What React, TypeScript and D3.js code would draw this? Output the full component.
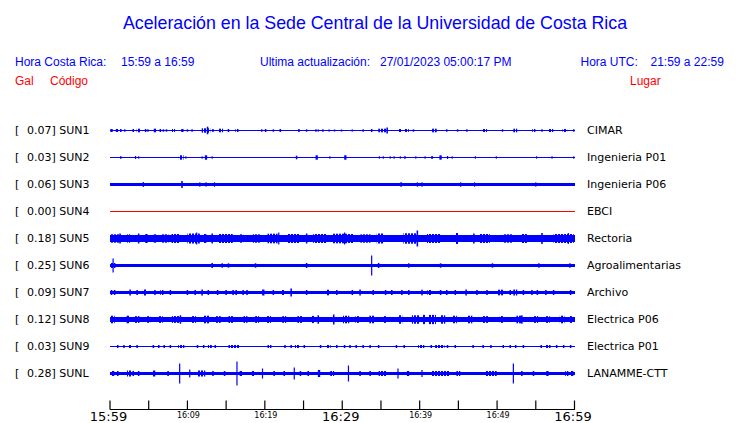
import React from "react";
import * as d3 from "d3";

// ---------- data ----------
const codes = ["SUN1", "SUN2", "SUN3", "SUN4", "SUN5", "SUN6", "SUN7", "SUN8", "SUN9", "SUNL"];
const peaks = ["0.07", "0.03", "0.06", "0.00", "0.18", "0.25", "0.09", "0.12", "0.03", "0.28"];
const places = ["CIMAR", "Ingenieria P01", "Ingenieria P06", "EBCI", "Rectoria", "Agroalimentarias", "Archivo", "Electrica P06", "Electrica P01", "LANAMME-CTT"];
// background (continuous) half amplitude of each trace, relative units
const baseAmp = [6, 5, 17, 5, 32, 17, 15, 26, 5, 15];
const traceColors = ["blue", "blue", "blue", "red", "blue", "blue", "blue", "blue", "blue", "blue"];
const tickMinutes = [0, 5, 10, 15, 20, 25, 30, 35, 40, 45, 50, 55, 60];
const tickLabels = ["15:59", "", "16:09", "", "16:19", "", "16:29", "", "16:39", "", "16:49", "", "16:59"];
const bigLabels = ["15:59", "16:29", "16:59"];

// bursts: [minute after 15:59, half amplitude (relative units), duration (min)]
const sun1: number[][] = [[0.2,15,0.3],[0.9,15,0.3],[1.4,15,0.2],[1.9,12,0.2],[3.0,15,0.2],[3.7,18,0.5],[4.6,15,0.2],[4.9,12,0.2],[5.8,18,0.3],[6.5,15,0.2],[6.9,12,0.2],[7.3,12,0.2],[8.2,15,0.4],[9.35,15,0.3],[10.0,12,0.2],[10.6,12,0.2],[12.4,22,1.1],[12.6,38,0.2],[13.3,15,0.2],[14.3,18,0.6],[15.3,15,0.2],[16.4,15,0.4],[19.6,12,0.2],[20.1,15,0.2],[21.1,12,0.2],[22.0,15,0.2],[24.4,15,0.2],[25.4,12,0.2],[26.6,12,0.2],[26.9,10,0.2],[27.5,12,0.2],[28.3,10,0.2],[29.0,10,0.2],[29.9,10,0.2],[31.3,10,0.2],[32.7,12,0.2],[33.8,15,0.2],[35.2,18,1.1],[35.8,30,0.2],[37.45,15,0.5],[38.3,15,0.6],[39.2,12,0.2],[41.9,18,0.6],[43.5,12,0.2],[44.9,12,0.2],[46.1,12,0.2],[48.4,15,0.6],[50.7,12,0.2],[52.35,18,0.5],[54.75,15,0.4],[55.8,12,0.2],[56.95,15,0.6],[58.75,15,0.6],[59.9,12,0.2]];
const sun2: number[][] = [[1.4,15,0.15],[3.3,15,0.15],[3.7,12,0.15],[9.2,22,0.6],[9.8,12,0.15],[11.9,12,0.15],[12.4,22,0.3],[13.2,12,0.15],[24.1,18,0.2],[26.7,22,0.3],[28.4,12,0.15],[30.4,22,0.3],[34.8,12,0.15],[35.3,12,0.15],[36.2,12,0.15],[36.7,12,0.15],[37.5,12,0.15],[38.1,15,0.15],[39.5,12,0.15],[40.7,12,0.15],[41.6,15,0.2],[42.7,22,0.3],[43.6,15,0.15],[44.2,12,0.15],[47.2,12,0.15],[49.9,12,0.15],[55.1,12,0.15],[57.1,12,0.15],[59.9,12,0.15]];
const sun3: number[][] = [[4.3,25,0.15],[9.3,35,0.2],[11.6,22,0.15],[12.4,22,0.15],[13.5,22,0.15],[37.6,25,0.15],[39.7,22,0.15],[40.3,22,0.15],[45.3,22,0.15],[47.1,22,0.15],[55.0,22,0.15]];
const sun4: number[][] = [];
const sun5: number[][] = [[0.7,42,1.2],[1.3,50,0.2],[2.4,42,0.4],[3.7,50,0.2],[4.7,45,0.3],[5.8,42,0.3],[7.1,42,0.9],[8.5,45,1.1],[10.8,50,1.6],[11.2,60,0.15],[12.3,45,0.3],[13.2,50,0.2],[14.9,45,1.9],[17.0,42,0.4],[18.9,42,0.9],[21.0,48,1.3],[21.8,60,0.15],[23.7,45,1.7],[25.4,50,0.2],[27.1,45,1.7],[29.7,48,1.8],[30.3,60,0.15],[31.0,45,1.0],[33.0,42,1.3],[34.9,50,0.9],[38.8,52,1.8],[39.7,80,0.2],[41.8,45,1.7],[44.8,55,0.4],[47.0,50,0.2],[48.4,45,1.3],[51.4,42,1.3],[53.5,45,0.7],[55.8,55,0.2],[58.6,45,2.6],[59.2,55,0.15]];
const sun6: number[][] = [[0.4,25,0.6],[0.4,70,0.15],[13.2,25,0.2],[14.5,22,0.2],[15.3,22,0.2],[18.8,22,0.2],[25.4,25,0.2],[33.8,100,0.15],[34.7,25,0.2],[38.6,22,0.2],[42.7,22,0.2],[49.4,22,0.2],[55.4,22,0.2],[59.4,22,0.2]];
const sun7: number[][] = [[0.2,25,0.2],[0.6,25,0.2],[2.6,30,0.2],[3.5,25,0.2],[4.5,30,0.5],[5.8,25,0.2],[6.7,25,0.4],[7.8,25,0.2],[10.0,25,0.2],[11.0,25,0.2],[11.9,30,0.2],[12.7,25,0.2],[13.9,25,0.2],[15.0,25,0.2],[15.9,25,0.2],[16.3,25,0.2],[17.2,25,0.2],[17.7,25,0.2],[19.8,30,0.3],[21.1,25,0.2],[22.4,25,0.4],[23.4,40,0.2],[25.4,25,0.2],[28.2,28,0.4],[29.3,25,0.2],[31.3,25,0.2],[32.3,30,0.2],[34.0,25,0.2],[35.6,25,0.2],[36.4,25,0.2],[37.7,25,0.2],[38.6,25,0.2],[40.3,28,0.2],[41.3,25,0.6],[42.7,25,0.2],[43.5,25,0.2],[44.6,25,0.2],[46.0,30,0.2],[47.4,25,0.2],[48.7,25,0.2],[50.4,28,0.8],[51.7,25,0.2],[52.35,30,0.5],[53.4,25,0.2],[54.5,25,0.2],[55.2,25,0.2],[56.3,25,0.2],[57.3,25,0.2],[59.5,25,0.2]];
const sun8: number[][] = [[0.3,38,0.6],[2.3,38,0.3],[3.5,34,0.6],[5.0,34,0.4],[6.5,34,0.6],[8.5,34,1.0],[9.1,42,0.2],[10.8,34,0.6],[12.5,38,0.8],[14.0,34,0.6],[15.6,34,0.6],[17.5,34,0.5],[19.0,34,0.5],[20.5,34,0.6],[22.5,34,0.5],[24.5,34,0.6],[26.2,36,0.5],[26.9,42,0.2],[28.9,50,0.2],[30.5,38,0.8],[32.0,34,0.6],[33.8,38,0.6],[35.5,34,0.4],[37.5,42,0.5],[39.5,42,1.0],[40.5,46,0.4],[41.6,46,1.0],[43.0,42,0.6],[44.5,38,0.6],[46.5,38,0.6],[48.5,34,0.8],[50.6,34,0.5],[52.8,38,0.6],[53.2,42,0.2],[55.0,34,0.6],[56.5,34,0.6],[58.4,38,0.6],[59.6,34,0.4]];
const sun9: number[][] = [[1.0,15,0.2],[1.8,15,0.2],[2.6,15,0.4],[3.5,15,0.2],[5.6,15,0.2],[6.3,15,0.2],[7.0,15,0.2],[7.8,15,0.2],[9.2,15,0.8],[11.3,15,0.2],[12.1,15,0.2],[12.9,15,0.5],[13.6,15,0.2],[16.0,15,1.4],[20.6,15,0.5],[22.6,15,0.2],[23.4,15,0.2],[24.2,15,0.6],[25.1,15,0.2],[27.2,15,0.2],[28.2,15,0.6],[29.3,15,0.2],[30.3,15,0.2],[31.0,15,0.2],[31.8,15,0.2],[32.7,15,0.2],[33.6,15,0.2],[34.7,15,0.2],[37.0,15,0.2],[38.0,15,0.2],[40.2,15,0.8],[41.5,15,0.2],[42.6,15,1.2],[43.6,15,0.2],[44.6,15,0.2],[46.9,15,0.2],[48.2,15,0.2],[49.2,15,0.2],[50.8,15,0.2],[51.7,15,0.2],[52.4,15,0.2],[53.4,15,0.2],[55.7,15,0.2],[56.6,15,0.6],[57.7,15,0.2],[58.6,15,0.2],[59.5,15,0.2]];
const sunL: number[][] = [[0.4,25,0.3],[1.0,25,0.2],[2.5,30,0.6],[3.0,25,0.2],[3.7,25,0.2],[5.7,30,0.3],[7.5,25,0.2],[9.0,100,0.12],[10.3,40,0.12],[11.8,30,1.0],[13.3,25,0.2],[14.8,25,0.2],[16.4,120,0.12],[16.9,25,0.3],[18.5,25,0.4],[19.7,50,0.12],[21.2,25,0.2],[22.5,25,0.2],[23.8,60,0.12],[24.6,25,0.2],[25.6,25,0.2],[27.0,35,0.3],[28.7,25,0.5],[30.8,80,0.12],[32.3,25,0.2],[33.6,25,0.2],[35.2,25,1.0],[37.2,50,0.12],[38.5,25,0.3],[40.3,35,0.12],[42.7,25,2.4],[45.0,25,0.5],[49.2,25,1.5],[52.1,100,0.12],[53.2,25,0.2],[54.7,25,0.2],[56.5,25,0.3],[59.0,25,0.4],[59.7,25,0.3]];
const bursts = [sun1, sun2, sun3, sun4, sun5, sun6, sun7, sun8, sun9, sunL];

// ---------- layout ----------
const W = 740;
const H = 423;
const sans = "'Liberation Sans', Arial, Helvetica, sans-serif";
const dv = "'DejaVu Sans', sans-serif";

export default function App() {
  const x = d3.scaleLinear().domain([0, 60]).range([110, 574.5]);
  const lane = d3.scaleBand<string>().domain(codes).range([117, 387]);
  const amp = d3.scaleLinear().domain([0, 100]).range([0, 10]);
  const laneY = (c: string) => (lane(c) as number) + lane.bandwidth() / 2;
  const axisY = 409.5;

  return (
    <svg width={W} height={H} style={{ position: "fixed", left: 0, top: 0, background: "white" }}>
      <defs>
        <pattern id="wiggleBlue" patternUnits="userSpaceOnUse" width={3} height={4}>
          <rect x={0} y={0} width={2} height={4} fill="#0000ff" />
        </pattern>
      </defs>
      <text x={375} y={29} textAnchor="middle" fontFamily={sans} fontSize={17.8} fill="#0000ff">
        Aceleración en la Sede Central de la Universidad de Costa Rica
      </text>
      <g fontFamily={sans} fontSize={12} fill="#0000ff">
        <text x={15} y={65.5}>Hora Costa Rica:</text>
        <text x={121} y={65.5}>15:59 a 16:59</text>
        <text x={260} y={65.5}>Ultima actualización:</text>
        <text x={380} y={65.5}>27/01/2023 05:00:17 PM</text>
        <text x={580.5} y={65.5}>Hora UTC:</text>
        <text x={650.5} y={65.5}>21:59 a 22:59</text>
      </g>
      <g fontFamily={sans} fontSize={12} fill="#ff0000">
        <text x={15} y={85}>Gal</text>
        <text x={50} y={85}>Código</text>
        <text x={630} y={85}>Lugar</text>
      </g>

      {codes.map((c, i) => {
        const yc = laneY(c);
        const b = amp(baseAmp[i]);
        const col = traceColors[i] === "red" ? "#ff0000" : "#0000ff";
        const top = Math.round(yc - b);
        const bot = Math.max(top + 1, Math.round(yc + b));
        return (
          <g key={c}>
            <text x={15} y={yc + 3.5} fontFamily={dv} fontSize={11} fill="#000">[</text>
            <text x={27} y={yc + 3.5} fontFamily={dv} fontSize={11} fill="#000">{peaks[i]}] {c}</text>
            <text x={587} y={yc + 3.5} fontFamily={dv} fontSize={11} fill="#000">{places[i]}</text>
            {bursts[i].map((d, j) => {
              let x0 = Math.max(x(0), x(d[0] - d[2] / 2));
              let x1 = Math.min(x(60), x(d[0] + d[2] / 2));
              if (x1 - x0 < 1.2) {
                const m = (x0 + x1) / 2;
                x0 = m - 0.6;
                x1 = m + 0.6;
              }
              const a = amp(d[1]);
              const wide = x1 - x0 > 3;
              return (
                <rect key={j} x={x0} width={x1 - x0} y={yc - a} height={2 * a}
                  fill={wide ? "url(#wiggleBlue)" : col} />
              );
            })}
            <rect x={x(0)} width={x(60) - x(0)} y={top} height={bot - top} fill={col} shapeRendering="crispEdges" />
          </g>
        );
      })}

      <g>
        <line x1={x(0)} x2={x(60)} y1={axisY} y2={axisY} stroke="#000" strokeWidth={1} shapeRendering="crispEdges" />
        {tickMinutes.map((m, i) => (
          <g key={m}>
            <line x1={x(m)} x2={x(m)} y1={axisY} y2={axisY - 9} stroke="#000" strokeWidth={1.2} />
            {tickLabels[i] !== "" && (
              bigLabels.includes(tickLabels[i]) ? (
                <text x={x(m) - 1.5} y={421} textAnchor="middle" fontFamily={dv} fontSize={13} fill="#000">{tickLabels[i]}</text>
              ) : (
                <text x={x(m) + 1} y={418} textAnchor="middle" fontFamily={dv} fontSize={8} fill="#000">{tickLabels[i]}</text>
              )
            )}
          </g>
        ))}
      </g>
    </svg>
  );
}
